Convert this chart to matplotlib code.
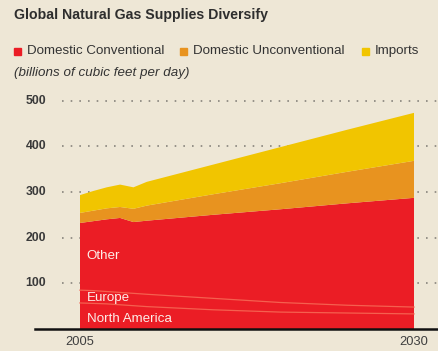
import matplotlib
matplotlib.use("Agg")
import matplotlib.pyplot as plt
from matplotlib.patches import Rectangle
import numpy as np

# Supply by source, billions of cubic feet per day
years = [2005, 2006, 2007, 2008, 2009, 2010, 2015, 2020, 2025, 2030]
domestic_conventional = [232, 236, 240, 243, 234, 237, 250, 262, 275, 287]
domestic_unconventional = [22, 23, 24, 24, 29, 33, 45, 57, 69, 81]
imports = [39, 43, 46, 49, 47, 52, 65, 79, 92, 105]

# Regional split inside conventional supply
north_america = [57, 56, 55, 53, 51, 49, 42, 37, 35, 33]
europe = [28, 28, 27, 27, 27, 27, 25, 21, 17, 15]

series_labels = ["Domestic Conventional", "Domestic Unconventional", "Imports"]
series_colors = ["#EB1D25", "#E8931F", "#F1C500"]
region_labels = ["Other", "Europe", "North America"]
y_ticks = [100, 200, 300, 400, 500]
x_ticks = [2005, 2030]

BG = "#EEE7D6"
W, H = 438, 351
fig = plt.figure(figsize=(W / 100, H / 100), dpi=100, facecolor=BG)
plt.rcParams["font.family"] = ["Liberation Sans", "DejaVu Sans"]

# axes: left edge at px 35, right at 438, baseline at px 329, top at px 95
left_px, right_px, base_px, top_px = 35, 438, 329, 95
ax = fig.add_axes([left_px / W, (H - base_px) / H,
                   (right_px - left_px) / W, (base_px - top_px) / H])
ax.set_facecolor(BG)
px_per_year = (414 - 80) / 25
x0 = 2005 - (80 - left_px) / px_per_year
x1 = 2030 + (right_px - 414) / px_per_year
ax.set_xlim(x0, x1)
ax.set_ylim(0, (base_px - top_px) / 45.7 * 100)
for s in ax.spines.values():
    s.set_visible(False)
ax.set_xticks([])
ax.set_yticks([])

# dotted gridlines
grid_start = (62 - left_px) / (right_px - left_px)
for v in y_ticks:
    ax.axhline(v, xmin=grid_start, xmax=1, color="#8E8A82", lw=1.3,
               dashes=(0.9, 3.9), zorder=1)
    ax.text(0.028, v, str(v), transform=ax.get_yaxis_transform(),
            ha="right", va="center", fontsize=8.8, fontweight="bold",
            color="#3A3A3A")

# stacked areas
ax.stackplot(years, domestic_conventional, domestic_unconventional, imports,
             colors=series_colors, linewidth=0, zorder=2)

# regional boundaries inside the conventional layer
na = np.array(north_america)
eu_top = na + np.array(europe)
ax.plot(years, na, color="#F5604F", lw=0.9, zorder=3)
ax.plot(years, eu_top, color="#F5604F", lw=0.9, zorder=3)

label_kw = dict(color="#FDEDE8", fontsize=9.6, ha="left", va="center", zorder=4)
ax.text(2005.5, 160, region_labels[0], **label_kw)
ax.text(2005.5, 67, region_labels[1], **label_kw)
ax.text(2005.5, 21, region_labels[2], **label_kw)

# baseline
ax.axhline(0, color="#111111", lw=1.8, zorder=5, clip_on=False)

# year labels
for yr in x_ticks:
    ax.text(yr, -16, str(yr), ha="center", va="top", fontsize=9.3,
            color="#3F3F3F", clip_on=False)

# title, legend, units
fig.text(14 / W, 1 - 15 / H, "Global Natural Gas Supplies Diversify",
         fontsize=10.2, fontweight="bold", color="#2E2E2E", va="center")

legend_x = [14, 180, 362]
for xpx, lab, col in zip(legend_x, series_labels, series_colors):
    fig.patches.append(Rectangle((xpx / W, 1 - 55 / H), 7 / W, 7 / H,
                                 transform=fig.transFigure, color=col))
    fig.text((xpx + 13) / W, 1 - 51 / H, lab, fontsize=9.6,
             color="#333333", va="center")

fig.text(14 / W, 1 - 73 / H, "(billions of cubic feet per day)",
         fontsize=9.6, fontstyle="italic", color="#333333", va="center")

fig.savefig("out.png", dpi=100, facecolor=BG)
